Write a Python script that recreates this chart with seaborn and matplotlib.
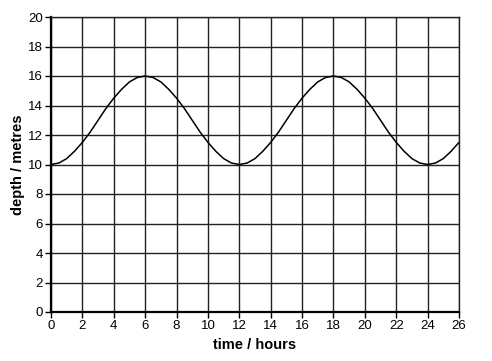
import matplotlib
matplotlib.use("Agg")
import matplotlib.pyplot as plt
import seaborn as sns
import pandas as pd

# valores, a cada meia hora
time_hours = [i * 0.5 for i in range(53)]
depth_metres = [
    10.0, 10.1, 10.4, 10.9, 11.5, 12.2, 13.0, 13.8, 14.5, 15.1, 15.6, 15.9,
    16.0, 15.9, 15.6, 15.1, 14.5, 13.8, 13.0, 12.2, 11.5, 10.9, 10.4, 10.1,
    10.0, 10.1, 10.4, 10.9, 11.5, 12.2, 13.0, 13.8, 14.5, 15.1, 15.6, 15.9,
    16.0, 15.9, 15.6, 15.1, 14.5, 13.8, 13.0, 12.2, 11.5, 10.9, 10.4, 10.1,
    10.0, 10.1, 10.4, 10.9, 11.5,
]
x_ticks = list(range(0, 27, 2))
y_ticks = list(range(0, 21, 2))

df = pd.DataFrame({"time": time_hours, "depth": depth_metres})

sns.set_style("white")
plt.rcParams["font.family"] = ["Liberation Sans", "DejaVu Sans"]
plt.rcParams["text.color"] = "black"
plt.rcParams["axes.labelcolor"] = "black"

fig = plt.figure(figsize=(4.92, 3.61), dpi=100)
ax = fig.add_axes([51 / 492, 49 / 361, 408 / 492, 295 / 361])

sns.lineplot(data=df, x="time", y="depth", color="black", linewidth=1.1, ax=ax)

ax.set_xlim(0, 26)
ax.set_ylim(0, 20)
ax.set_xticks(x_ticks)
ax.set_yticks(y_ticks)
ax.grid(True, color="#222222", linewidth=1.0)
ax.set_axisbelow(True)
for side in ["top", "right"]:
    ax.spines[side].set_linewidth(1.0)
    ax.spines[side].set_color("#222222")
for side in ["left", "bottom"]:
    ax.spines[side].set_linewidth(1.6)
    ax.spines[side].set_color("black")
ax.tick_params(direction="out", length=4, width=1, color="black",
               labelcolor="black", labelsize=9.5, pad=2,
               bottom=True, left=True)
ax.set_xlabel("time / hours", fontsize=10.5, fontweight="bold", labelpad=4)
ax.set_ylabel("depth / metres", fontsize=10.5, fontweight="bold", labelpad=2)

fig.savefig("out.png", dpi=100)
